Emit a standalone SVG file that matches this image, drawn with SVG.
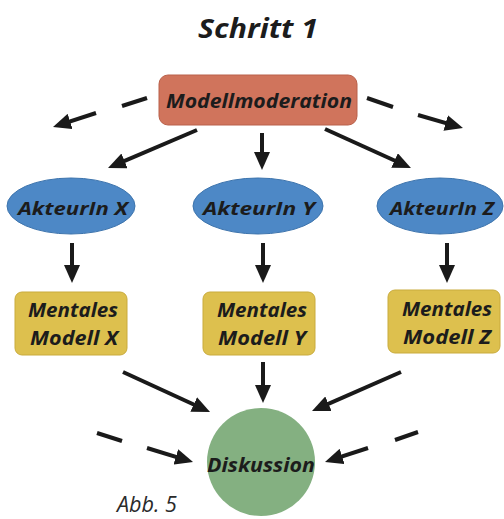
<svg xmlns="http://www.w3.org/2000/svg" width="504" height="519" viewBox="0 0 504 519">
  <style>
    .lbl { font-family: "Open Sans", "Liberation Sans", Arial, sans-serif; font-weight: bold; font-style: italic; fill: #1c1c1c; text-anchor: middle; }
    .mod { fill: #d0745c; stroke: #b9604a; stroke-width: 1; }
    .act { fill: #4d88c6; stroke: #3d74ad; stroke-width: 1; }
    .men { fill: #ddc04e; stroke: #c9ab3c; stroke-width: 1; }
    .dis { fill: #84b081; }
    .arr { stroke: #1a1a1a; stroke-width: 4; fill: none; }
    .arrm { stroke: #1a1a1a; stroke-width: 4; fill: none; marker-end: url(#head); }
  </style>
  <defs>
    <marker id="head" viewBox="0 0 18 16" refX="12" refY="8" markerWidth="18" markerHeight="16" markerUnits="userSpaceOnUse" orient="auto">
      <path d="M0,0 L18,8 L0,16 z" fill="#1a1a1a"/>
    </marker>
  </defs>

  <rect width="504" height="519" fill="#ffffff"/>

  <text id="title" class="lbl" x="258" y="38" font-size="26" textLength="120" lengthAdjust="spacingAndGlyphs">Schritt 1</text>

  <g id="connectors">
    <!-- dashed outgoing arrows from moderation -->
    <line class="arr" x1="147" y1="98" x2="122" y2="106"/>
    <line class="arrm" x1="96" y1="113" x2="58.7" y2="125.1"/>
    <line class="arr" x1="367" y1="98" x2="393" y2="107"/>
    <line class="arrm" x1="418" y1="115" x2="457.2" y2="126.3"/>
    <!-- moderation to actors -->
    <line class="arrm" x1="197" y1="130" x2="113.5" y2="165.6"/>
    <line class="arrm" x1="262" y1="133" x2="262" y2="164"/>
    <line class="arrm" x1="325" y1="129" x2="405.5" y2="165.5"/>
    <!-- actors to mental models -->
    <line class="arrm" x1="72" y1="243" x2="72" y2="277"/>
    <line class="arrm" x1="263" y1="243" x2="263" y2="277"/>
    <line class="arrm" x1="447" y1="243" x2="447" y2="277"/>
    <!-- mental models to discussion -->
    <line class="arrm" x1="123" y1="372" x2="204.6" y2="409.5"/>
    <line class="arrm" x1="263" y1="362" x2="263" y2="397"/>
    <line class="arrm" x1="401" y1="372" x2="317.5" y2="408.6"/>
    <!-- dashed incoming arrows to discussion -->
    <line class="arr" x1="97" y1="433" x2="122" y2="441"/>
    <line class="arrm" x1="147" y1="448" x2="187.3" y2="460.3"/>
    <line class="arr" x1="418" y1="432" x2="395" y2="440"/>
    <line class="arrm" x1="368" y1="448" x2="330.7" y2="460.1"/>
  </g>

  <g id="modellmoderation">
    <rect class="mod" x="159" y="75" width="198" height="50" rx="9"/>
    <text class="lbl" x="259" y="108" font-size="19" textLength="186" lengthAdjust="spacingAndGlyphs">Modellmoderation</text>
  </g>

  <g id="akteur-x">
    <ellipse class="act" cx="71" cy="206" rx="64" ry="28"/>
    <text class="lbl" x="73" y="215" font-size="18" textLength="110" lengthAdjust="spacingAndGlyphs">AkteurIn X</text>
  </g>
  <g id="akteur-y">
    <ellipse class="act" cx="258" cy="206" rx="65" ry="28"/>
    <text class="lbl" x="259" y="215" font-size="18" textLength="112" lengthAdjust="spacingAndGlyphs">AkteurIn Y</text>
  </g>
  <g id="akteur-z">
    <ellipse class="act" cx="440" cy="206" rx="63" ry="28"/>
    <text class="lbl" x="442" y="215" font-size="18" textLength="104" lengthAdjust="spacingAndGlyphs">AkteurIn Z</text>
  </g>

  <g id="modell-x">
    <rect class="men" x="15" y="292" width="112" height="63" rx="7"/>
    <text class="lbl" x="73" y="317" font-size="20" textLength="90" lengthAdjust="spacingAndGlyphs">Mentales</text>
    <text class="lbl" x="74" y="345" font-size="20" textLength="88" lengthAdjust="spacingAndGlyphs">Modell X</text>
  </g>
  <g id="modell-y">
    <rect class="men" x="203" y="292" width="112" height="63" rx="7"/>
    <text class="lbl" x="262" y="317" font-size="20" textLength="90" lengthAdjust="spacingAndGlyphs">Mentales</text>
    <text class="lbl" x="262" y="345" font-size="20" textLength="88" lengthAdjust="spacingAndGlyphs">Modell Y</text>
  </g>
  <g id="modell-z">
    <rect class="men" x="388" y="290" width="112" height="63" rx="7"/>
    <text class="lbl" x="447" y="316" font-size="20" textLength="90" lengthAdjust="spacingAndGlyphs">Mentales</text>
    <text class="lbl" x="447" y="344" font-size="20" textLength="88" lengthAdjust="spacingAndGlyphs">Modell Z</text>
  </g>

  <g id="diskussion">
    <circle class="dis" cx="261" cy="462" r="54"/>
    <text class="lbl" x="261" y="472" font-size="20" textLength="108" lengthAdjust="spacingAndGlyphs">Diskussion</text>
  </g>

  <text id="caption" x="147" y="512" font-family="'Open Sans', 'Liberation Sans', Arial, sans-serif" font-style="italic" font-size="21" fill="#2a2a2a" text-anchor="middle" textLength="60" lengthAdjust="spacingAndGlyphs">Abb. 5</text>
</svg>
